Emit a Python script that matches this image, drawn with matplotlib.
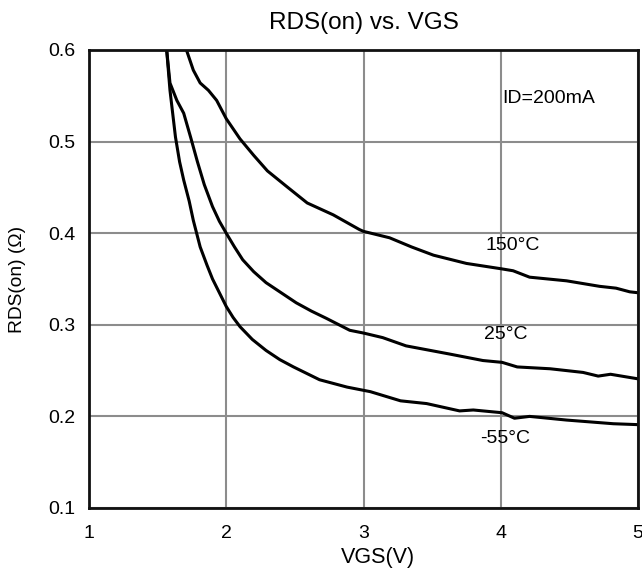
import matplotlib.pyplot as plt
import numpy as np

plt.rcParams['font.family'] = ['Liberation Sans', 'DejaVu Sans']

# curves: VGS (V) vs RDS(on) (ohm)
vgs_150 = [1.71, 1.76, 1.81, 1.87, 1.93, 2.0, 2.10, 2.20, 2.30, 2.44, 2.59, 2.78, 2.97, 3.0, 3.19,
           3.35, 3.51, 3.75, 4.01, 4.09, 4.21, 4.48, 4.72, 4.84, 4.94, 5.0]
rds_150 = [0.60, 0.578, 0.564, 0.556, 0.545, 0.525, 0.503, 0.485, 0.468, 0.451, 0.433, 0.42, 0.404,
           0.402, 0.395, 0.385, 0.376, 0.367, 0.361, 0.359, 0.352, 0.348, 0.342, 0.340, 0.336, 0.335]

vgs_25 = [1.566, 1.59, 1.64, 1.69, 1.74, 1.79, 1.84, 1.90, 1.95, 2.0, 2.06, 2.12, 2.20, 2.29, 2.40,
          2.51, 2.62, 2.73, 2.9, 3.0, 3.14, 3.31, 3.63, 3.87, 4.01, 4.12, 4.36, 4.60, 4.71, 4.80, 5.0]
rds_25 = [0.60, 0.564, 0.545, 0.531, 0.505, 0.478, 0.453, 0.429, 0.413, 0.40, 0.385, 0.371, 0.358,
          0.346, 0.335, 0.324, 0.315, 0.307, 0.294, 0.291, 0.286, 0.277, 0.268, 0.261, 0.259, 0.254,
          0.252, 0.248, 0.244, 0.246, 0.241]

vgs_m55 = [1.566, 1.59, 1.63, 1.66, 1.69, 1.73, 1.76, 1.81, 1.86, 1.90, 1.95, 2.0, 2.05, 2.10, 2.19,
           2.29, 2.39, 2.49, 2.68, 2.88, 3.05, 3.27, 3.46, 3.70, 3.80, 4.01, 4.10, 4.21, 4.48, 4.82, 5.0]
rds_m55 = [0.60, 0.556, 0.505, 0.478, 0.458, 0.435, 0.414, 0.385, 0.365, 0.350, 0.335, 0.320, 0.308,
           0.298, 0.284, 0.272, 0.262, 0.254, 0.240, 0.232, 0.227, 0.217, 0.214, 0.206, 0.207, 0.204,
           0.198, 0.200, 0.196, 0.192, 0.191]

fig = plt.figure(figsize=(6.42, 5.69), dpi=100)
ax = fig.add_axes([89 / 642, 1 - 508 / 569, 549 / 642, 458 / 569])

for x, y in [(vgs_150, rds_150), (vgs_25, rds_25), (vgs_m55, rds_m55)]:
    ax.plot(x, y, color='black', lw=2.2, solid_capstyle='round', solid_joinstyle='round')

ax.set_xlim(1, 5)
ax.set_ylim(0.1, 0.6)
ax.set_xticks([1, 2, 3, 4, 5])
ax.set_yticks([0.1, 0.2, 0.3, 0.4, 0.5, 0.6])
ax.set_yticklabels(['0.1', '0.2', '0.3', '0.4', '0.5', '0.6'])
ax.grid(True, color='#8c8c8c', lw=1.5)
ax.tick_params(length=0, labelsize=14)
ax.tick_params(axis='x', pad=12)
ax.tick_params(axis='y', pad=10)
for s in ax.spines.values():
    s.set_linewidth(2)
    s.set_color('#111111')

ax.text(4.09, 0.387, '150°C', ha='center', va='center', fontsize=14)
ax.text(4.04, 0.289, '25°C', ha='center', va='center', fontsize=14)
ax.text(4.03, 0.176, '-55°C', ha='center', va='center', fontsize=14)
ax.text(4.35, 0.547, 'ID=200mA', ha='center', va='center', fontsize=14)

ax.set_title('RDS(on) vs. VGS', fontsize=17.5, pad=15)
ax.set_xlabel('VGS(V)', fontsize=15.5, va='center')
ax.xaxis.set_label_coords(0.526, -0.107)
ax.set_ylabel('RDS(on) (Ω)', fontsize=13.8, va='center')
ax.yaxis.set_label_coords(-0.131, 0.5)

fig.savefig('out.png', dpi=100)
